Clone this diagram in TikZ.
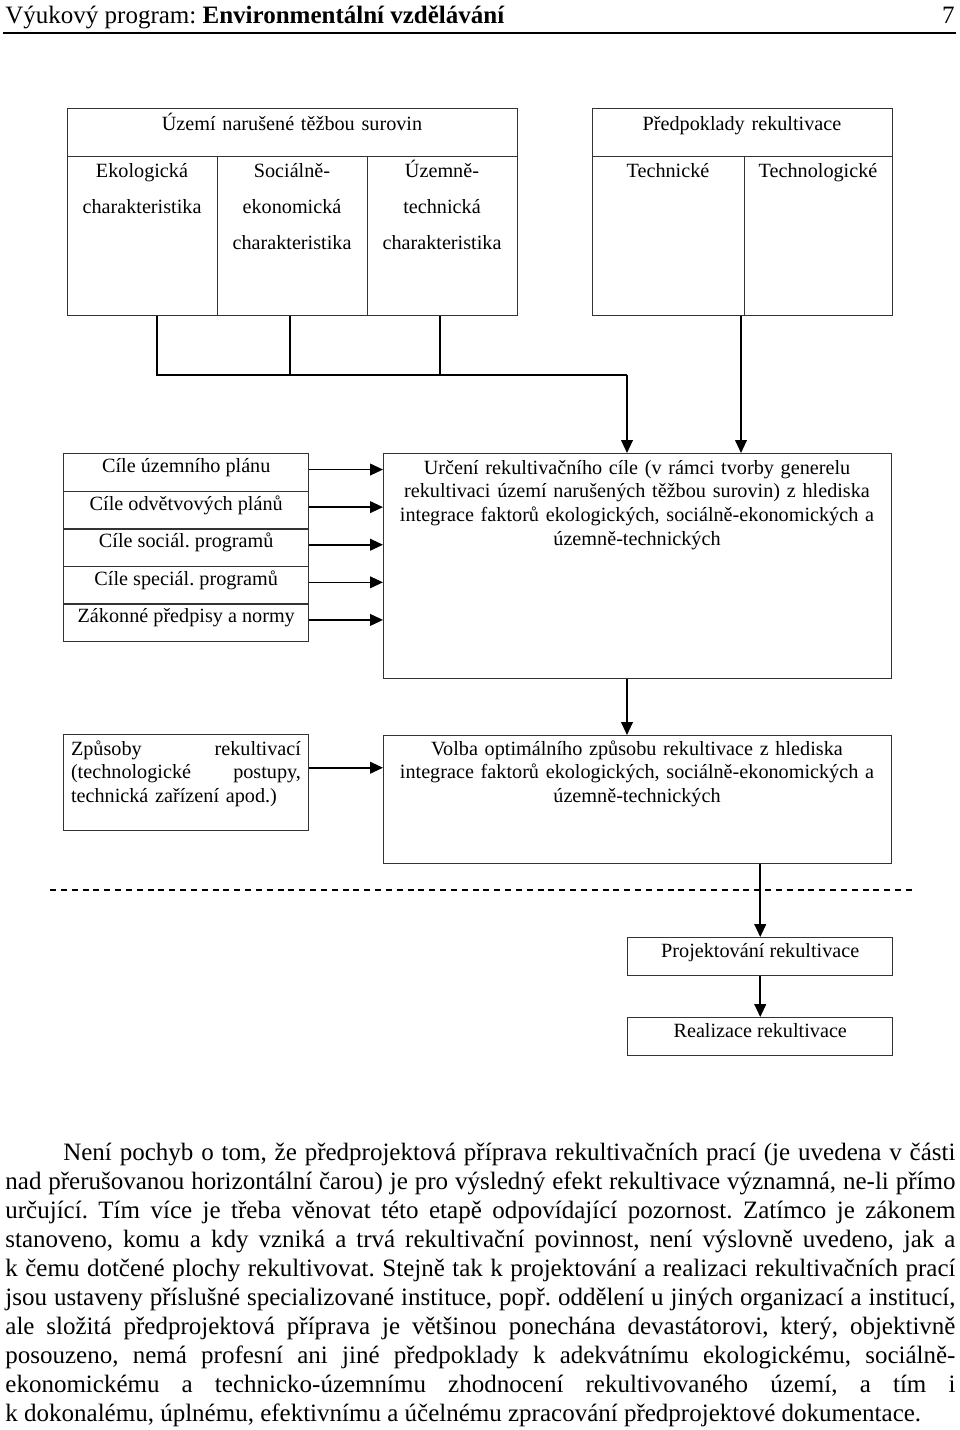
\documentclass[tikz,border=0pt]{standalone}
\usepackage{fontspec}
\setmainfont{Liberation Serif}
\usetikzlibrary{arrows.meta}
\frenchspacing

\newcommand{\pxu}{0.48pt}
\newcommand{\dfont}{\fontsize{9.7}{11.5}\selectfont}
\newcommand{\cfont}{\fontsize{9.7}{17.5}\selectfont}
\newcommand{\bfont}{\fontsize{12}{13.92}\selectfont}

\begin{document}
\begin{tikzpicture}[x=0.48pt, y=-0.48pt, >={Triangle[length=6.2pt, width=5.6pt]},
	cell/.style 2 args={draw=black!80, line width=0.7pt, inner sep=0pt, anchor=north west,
		minimum width=#1*\pxu, minimum height=#2*\pxu},
	row/.style={cell={245}{37.6}, font=\dfont, text height=6pt, text depth=6pt},
	stage/.style={cell={265}{37.5}, font=\dfont, text height=6.5pt, text depth=5.5pt},
	txt/.style={font=\dfont, inner sep=0pt, anchor=base, align=center, text width=#1*\pxu},
	line/.style={draw, line width=0.8pt},
	arr/.style={line, ->},
	cutline/.style={line width=1.1pt, dash pattern=on 2.9pt off 2.3pt}]

	\path[use as bounding box, fill=white] (0,0) rectangle (960,1430);

	\node[anchor=base west, inner sep=0pt, font=\bfont] (head) at (5,23)
		{Výukový program: \textbf{Environmentální vzdělávání}};
	\node[anchor=base east, inner sep=0pt, font=\bfont] (pageno) at (955,23) {7};
	\coordinate (rule-l) at (3,33);
	\coordinate (rule-r) at (956,33);
	\draw[line width=0.7pt] (rule-l) -- (rule-r);

	\node[cell={450}{48}]  (narus) at (67,108) {};
	\node[cell={150}{159}] (eko)   at (67,156) {};
	\node[cell={150}{159}] (soc)   at (217,156) {};
	\node[cell={150}{159}] (uzt)   at (367,156) {};
	\node[txt=440] (narus-t) at (292,130) {Území narušené těžbou surovin};
	\node[txt=146, font=\cfont] (eko-t) at (142,177)
		{Ekologická\\charakteristika};
	\node[txt=146, font=\cfont] (soc-t) at (292,177)
		{Sociálně-\\ekonomická\\charakteristika};
	\node[txt=146, font=\cfont] (uzt-t) at (442,177)
		{Územně-\\technická\\charakteristika};

	\node[cell={300}{48}]  (predp) at (592,108) {};
	\node[cell={152}{159}] (tech)  at (592,156) {};
	\node[cell={148}{159}] (techl) at (744,156) {};
	\node[txt=290] (predp-t) at (742,130) {Předpoklady rekultivace};
	\node[txt=146] (tech-t)  at (668,177) {Technické};
	\node[txt=146] (techl-t) at (818,177) {Technologické};

	\node[row] (r1) at (63,453)   {Cíle územního plánu};
	\node[row] (r2) at (63,490.6) {Cíle odvětvových plánů};
	\node[row] (r3) at (63,528.2) {Cíle sociál. programů};
	\node[row] (r4) at (63,565.8) {Cíle speciál. programů};
	\node[row] (r5) at (63,603.4) {Zákonné předpisy a normy};

	\node[cell={508}{225}] (urc) at (383,453) {};
	\node[txt=506] (urc-t) at (637,474)
		{Určení rekultivačního cíle (v rámci tvorby generelu\\
		rekultivaci území narušených těžbou surovin) z hlediska\\
		integrace faktorů ekologických, sociálně-ekonomických a\\
		územně-technických};

	\node[cell={245}{96}] (zpus) at (63,734) {};
	\node[txt=230, align=left] (zpus-t) at (186,755)
		{Způsoby\hfill rekultivací\\(technologické\hfill postupy,\\technická zařízení apod.)};

	\node[cell={508}{128}] (volba) at (383,735) {};
	\node[txt=506] (volba-t) at (637,755)
		{Volba optimálního způsobu rekultivace z hlediska\\
		integrace faktorů ekologických, sociálně-ekonomických a\\
		územně-technických};

	\node[stage] (proj) at (627,937)  {Projektování rekultivace};
	\node[stage] (real) at (627,1017) {Realizace rekultivace};

	\coordinate (tap1) at (157,375);
	\coordinate (tap2) at (290,375);
	\coordinate (tap3) at (440,375);
	\coordinate (join) at (627,375);
	\coordinate (tap4) at (741,375);
	\draw[line] (tap1 |- eko.south) -- (tap1) -- (join);
	\draw[line] (tap2 |- soc.south) -- (tap2);
	\draw[line] (tap3 |- uzt.south) -- (tap3);
	\draw[arr] (join) -- (join |- urc.north);
	\draw[arr] (tap4 |- tech.south) -- (tap4 |- urc.north);

	\draw[arr] ([yshift=3*\pxu]r1.east) -- ([yshift=3*\pxu]r1.east -| urc.west);
	\draw[arr] ([yshift=3*\pxu]r2.east) -- ([yshift=3*\pxu]r2.east -| urc.west);
	\draw[arr] ([yshift=3*\pxu]r3.east) -- ([yshift=3*\pxu]r3.east -| urc.west);
	\draw[arr] ([yshift=3*\pxu]r4.east) -- ([yshift=3*\pxu]r4.east -| urc.west);
	\draw[arr] ([yshift=3*\pxu]r5.east) -- ([yshift=3*\pxu]r5.east -| urc.west);

	\draw[arr] (join |- urc.south) -- (join |- volba.north);
	\draw[arr] ([yshift=15*\pxu]zpus.east) -- ([yshift=15*\pxu]zpus.east -| volba.west);
	\draw[arr] (proj.north |- volba.south) -- (proj.north);
	\draw[arr] (proj.south) -- (real.north);

	\coordinate (cut-l) at (50,890);
	\coordinate (cut-r) at (915,890);
	\draw[cutline] (cut-l) -- (cut-r);

	\node[anchor=base west, inner sep=0pt, text width=950*\pxu, align=justify, font=\bfont]
		(para) at (5,1160)
		{\hspace*{27.8pt}Není pochyb o tom, že předprojektová příprava rekultivačních prací (je uvedena v~části\linebreak
		nad přerušovanou horizontální čarou) je pro výsledný efekt rekultivace významná, ne-li přímo\linebreak
		určující. Tím více je třeba věnovat této etapě odpovídající pozornost. Zatímco je zákonem\linebreak
		stanoveno, komu a kdy vzniká a trvá rekultivační povinnost, není výslovně uvedeno, jak a\linebreak
		k čemu dotčené plochy rekultivovat. Stejně tak k projektování a realizaci rekultivačních prací\linebreak
		jsou ustaveny příslušné specializované instituce, popř. oddělení u jiných organizací a institucí,\linebreak
		ale složitá předprojektová příprava je většinou ponechána devastátorovi, který, objektivně\linebreak
		posouzeno, nemá profesní ani jiné předpoklady k adekvátnímu ekologickému, sociálně-\linebreak
		ekonomickému a technicko-územnímu zhodnocení rekultivovaného území, a tím i\linebreak
		k dokonalému, úplnému, efektivnímu a účelnému zpracování předprojektové dokumentace.};
\end{tikzpicture}
\end{document}
